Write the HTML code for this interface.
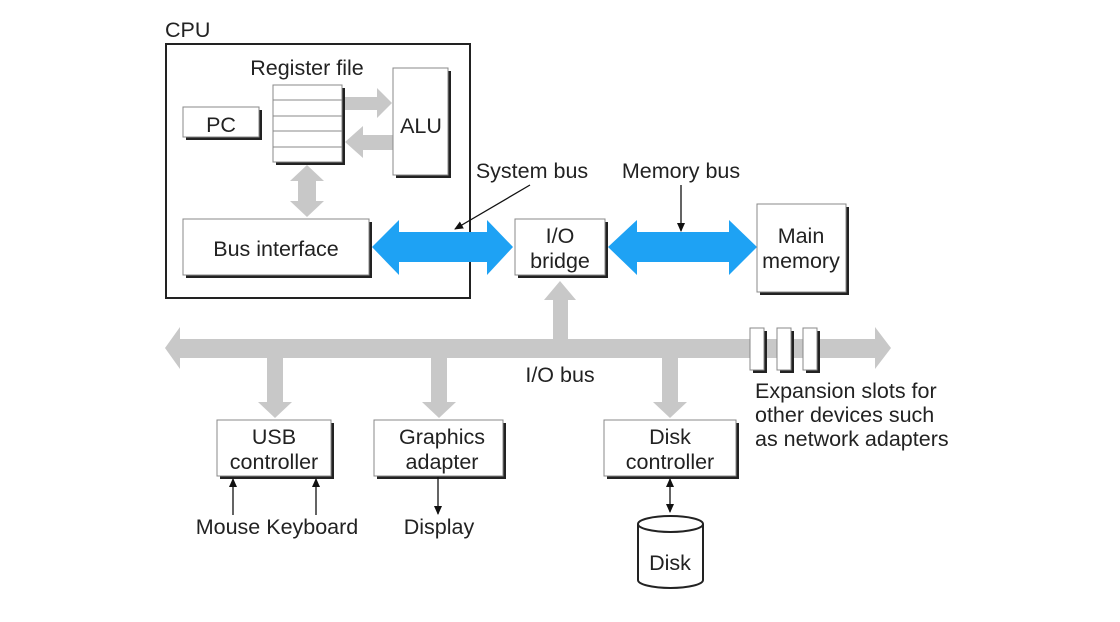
<!DOCTYPE html>
<html><head><style>body{margin:0;background:#fff}svg{display:block}text{font-family:"Liberation Sans",sans-serif;fill:#222}</style></head><body>
<svg width="1120" height="622" viewBox="0 0 1120 622" xmlns="http://www.w3.org/2000/svg">
<defs>
<marker id="ah" markerWidth="10" markerHeight="10" refX="8" refY="5" orient="auto" markerUnits="userSpaceOnUse"><path d="M0,1 L9,5 L0,9 z" fill="#111"/></marker>
</defs>
<g font-size="21.5" text-anchor="middle">
<!-- CPU -->
<text x="165" y="37" text-anchor="start">CPU</text>
<rect x="166" y="44" width="304" height="254" fill="none" stroke="#222" stroke-width="2"/>
<text x="307" y="75">Register file</text>
<!-- gray arrows inside cpu -->
<polygon points="345,97 377,97 377,88 392,103 377,118 377,110 345,110" fill="#c8c8c8"/>
<polygon points="393,135 363,135 363,126 345,142 363,158 363,150 393,150" fill="#c8c8c8"/>
<polygon points="307,165 324,181 316,181 316,201 324,201 307,217 290,201 298,201 298,181 290,181" fill="#c8c8c8"/>
<!-- reg file -->
<rect x="276" y="88" width="69" height="77" fill="#222"/>
<rect x="273" y="85" width="69" height="77" fill="#fff" stroke="#888"/>
<path d="M273,100H342M273,116H342M273,131H342M273,147H342" stroke="#888"/>
<rect x="186" y="110" width="76" height="30" fill="#222"/>
<rect x="183" y="107" width="76" height="30" fill="#fff" stroke="#888"/>
<text x="221" y="132">PC</text>
<rect x="396" y="71" width="55" height="107" fill="#222"/>
<rect x="393" y="68" width="55" height="107" fill="#fff" stroke="#888"/>
<text x="421" y="133">ALU</text>
<rect x="186" y="222" width="186" height="56" fill="#222"/>
<rect x="183" y="219" width="186" height="56" fill="#fff" stroke="#888"/>
<text x="276" y="256">Bus interface</text>
<!-- IO bus -->
<polygon points="165,348 180,327 180,339 875,339 875,327 891,348 875,369 875,358 180,358 180,369" fill="#c8c8c8"/>
<polygon points="553,339 553,300 544,300 560,281 576,300 568,300 568,339" fill="#c8c8c8"/>
<polygon points="267,358 283,358 283,402 292,402 275,418 258,402 267,402" fill="#c8c8c8"/>
<polygon points="431,358 447,358 447,402 456,402 439,418 422,402 431,402" fill="#c8c8c8"/>
<polygon points="662,358 678,358 678,402 687,402 670,418 653,402 662,402" fill="#c8c8c8"/>
<!-- slots -->
<rect x="753" y="331" width="14" height="42" fill="#222"/><rect x="750" y="328" width="14" height="42" fill="#fff" stroke="#888"/>
<rect x="780" y="331" width="14" height="42" fill="#222"/><rect x="777" y="328" width="14" height="42" fill="#fff" stroke="#888"/>
<rect x="806" y="331" width="14" height="42" fill="#222"/><rect x="803" y="328" width="14" height="42" fill="#fff" stroke="#888"/>
<!-- blue arrows -->
<polygon points="372,247 399,220 399,232 487,232 487,220 513,247 487,275 487,262 399,262 399,275" fill="#1ea2f4"/>
<polygon points="608,247 637,220 637,232 729,232 729,220 757,247 729,275 729,262 637,262 637,275" fill="#1ea2f4"/>
<!-- bridge & memory -->
<rect x="518" y="222" width="90" height="56" fill="#222"/>
<rect x="515" y="219" width="90" height="56" fill="#fff" stroke="#888"/>
<text x="560" y="243">I/O</text><text x="560" y="268">bridge</text>
<rect x="760" y="207" width="89" height="88" fill="#222"/>
<rect x="757" y="204" width="89" height="88" fill="#fff" stroke="#888"/>
<text x="801" y="243">Main</text><text x="801" y="268">memory</text>
<text x="532" y="178">System bus</text>
<line x1="530" y1="185" x2="455" y2="229" stroke="#111" stroke-width="1.3" marker-end="url(#ah)"/>
<text x="681" y="178">Memory bus</text>
<line x1="681" y1="185" x2="681" y2="231" stroke="#111" stroke-width="1.3" marker-end="url(#ah)"/>
<text x="560" y="382">I/O bus</text>
<g text-anchor="start"><text x="755" y="398">Expansion slots for</text><text x="755" y="422">other devices such</text><text x="755" y="446">as network adapters</text></g>
<!-- controllers -->
<rect x="220" y="423" width="114" height="56" fill="#222"/>
<rect x="217" y="420" width="114" height="56" fill="#fff" stroke="#888"/>
<text x="274" y="444">USB</text><text x="274" y="469">controller</text>
<rect x="377" y="423" width="129" height="56" fill="#222"/>
<rect x="374" y="420" width="129" height="56" fill="#fff" stroke="#888"/>
<text x="442" y="444">Graphics</text><text x="442" y="469">adapter</text>
<rect x="607" y="423" width="132" height="56" fill="#222"/>
<rect x="604" y="420" width="132" height="56" fill="#fff" stroke="#888"/>
<text x="670" y="444">Disk</text><text x="670" y="469">controller</text>
<line x1="233" y1="515" x2="233" y2="479" stroke="#111" stroke-width="1.3" marker-end="url(#ah)"/>
<line x1="316" y1="515" x2="316" y2="479" stroke="#111" stroke-width="1.3" marker-end="url(#ah)"/>
<line x1="438" y1="477" x2="438" y2="514" stroke="#111" stroke-width="1.3" marker-end="url(#ah)"/>
<line x1="670" y1="495" x2="670" y2="512" stroke="#111" stroke-width="1.3" marker-end="url(#ah)"/>
<line x1="670" y1="495" x2="670" y2="479" stroke="#111" stroke-width="1.3" marker-end="url(#ah)"/>
<text x="277" y="534">Mouse Keyboard</text>
<text x="439" y="534">Display</text>
<!-- disk -->
<path d="M638,524 V580 A32.5,8 0 0 0 703,580 V524" fill="#fff" stroke="#222" stroke-width="2"/>
<ellipse cx="670.5" cy="524" rx="32.5" ry="8" fill="#fff" stroke="#222" stroke-width="2"/>
<text x="670" y="570">Disk</text>
</g>
</svg>
</body></html>
